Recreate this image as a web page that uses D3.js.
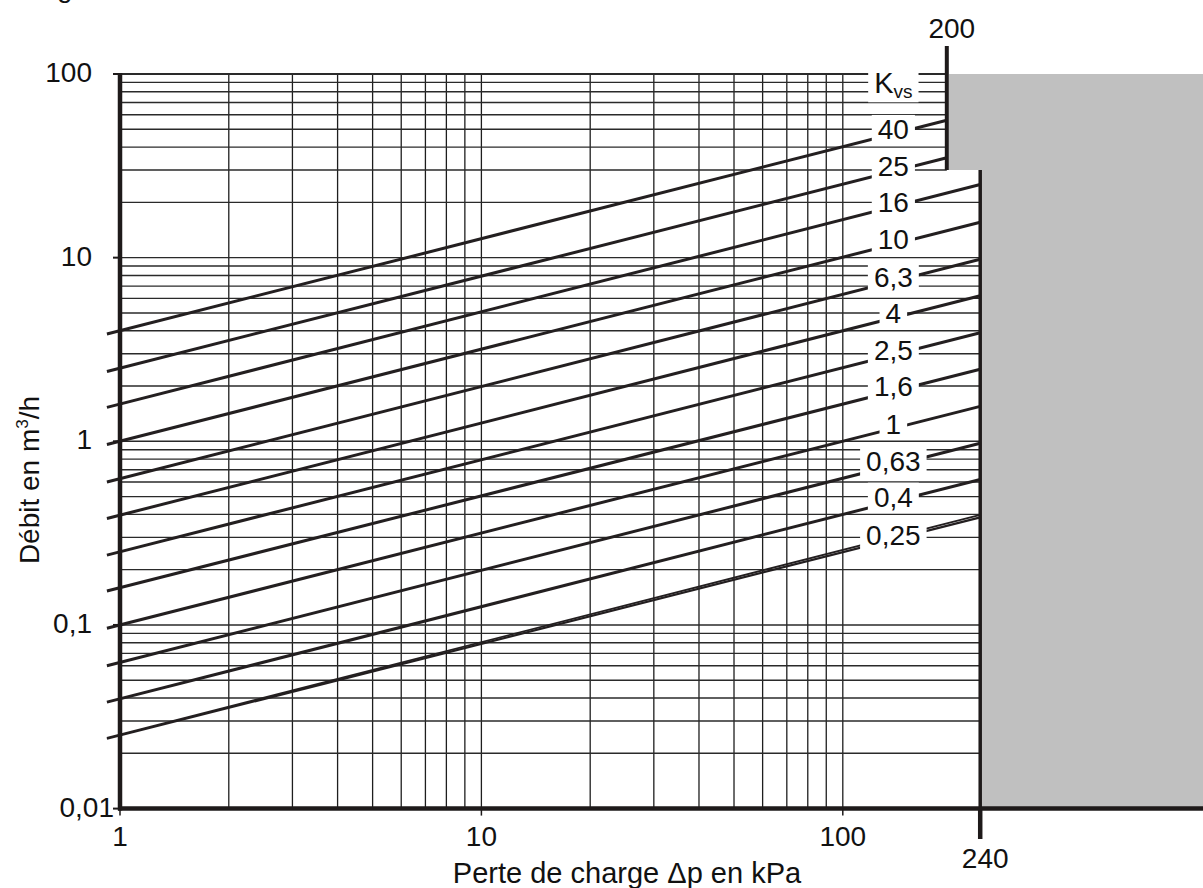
<!DOCTYPE html>
<html>
<head>
<meta charset="utf-8">
<script src="https://cdn.jsdelivr.net/npm/d3@7"></script>
<style>
  body { margin: 0; background: #fff; }
  text { font-family: "Liberation Sans", Arial, sans-serif; fill: #111; }
</style>
</head>
<body>
<div class="chart"></div>
<script>
// Kvs curves (start at dp ~0.92 kPa, end at the zone limit)
const kvsLabels = ["40", "25", "16", "10", "6,3", "4", "2,5", "1,6", "1", "0,63", "0,4", "0,25"];
const qStart = [3.84, 2.4, 1.53, 0.96, 0.6, 0.38, 0.24, 0.153, 0.096, 0.06, 0.038, 0.024];
const dpEnd = [194, 194, 240, 240, 240, 240, 240, 240, 240, 240, 240, 240];
const qEnd = [56, 35, 25, 15.6, 9.8, 6.2, 3.9, 2.47, 1.55, 0.975, 0.62, 0.385];
const dpStart = 0.92;
// the 0,25 curve is drawn twice in the original (slightly split at the end)
const ghostStart = 0.0243;
const ghostEnd = 0.398;

const yTickLabels = [[100, "100"], [10, "10"], [1, "1"], [0.1, "0,1"], [0.01, "0,01"]];
const xTickLabels = [[1, "1"], [10, "10"], [100, "100"]];
const zoneLimits = [[194, "200"], [240, "240"]];
const zoneStepQ = 30;
const labelDp = 138;

const W = 1203, H = 888;

const svg = d3.select(".chart")
    .append("svg")
    .attr("width", W)
    .attr("height", H);

const x = d3.scaleLog().domain([1, 100]).range([120, 842.8]);
const y = d3.scaleLog().domain([0.01, 100]).range([808.6, 74]);

const xA = x(zoneLimits[0][0]), xB = x(zoneLimits[1][0]);

/* cropped heading at the very top */
svg.append("text").attr("x", 57).attr("y", -3).attr("font-size", "28px").text("g");

/* grid */
svg.selectAll(".vgrid")
    .data(x.ticks())
    .enter()
    .append("line")
    .attr("x1", d => x(d)).attr("x2", d => x(d))
    .attr("y1", y(100)).attr("y2", y(0.01))
    .attr("stroke", "#1e1e1e")
    .attr("stroke-width", 1.3);

svg.selectAll(".hgrid")
    .data(y.ticks())
    .enter()
    .append("line")
    .attr("x1", x(1))
    .attr("x2", d => d >= zoneStepQ - 0.1 ? xA : xB)
    .attr("y1", d => y(d)).attr("y2", d => y(d))
    .attr("stroke", "#2a2a2a")
    .attr("stroke-width", d => d == 100 ? 2 : 1.4);

/* grey zone */
svg.append("path")
    .attr("d", `M${xA + 2},${y(100)} H${W} V${y(0.01)} H${xB} V${y(zoneStepQ)} H${xA + 2} Z`)
    .attr("fill", "#c0c0c0");

/* curves */
const line = d3.line().x(d => x(d[0])).y(d => y(d[1]));

const curves = kvsLabels.map((k, i) => [[dpStart, qStart[i]], [dpEnd[i], qEnd[i]]]);

svg.selectAll(".curve")
    .data(curves)
    .enter()
    .append("path")
    .attr("d", line)
    .attr("fill", "none")
    .attr("stroke", "#231f20")
    .attr("stroke-width", (d, i) => i == curves.length - 1 ? 2.2 : 3);

svg.append("path")
    .attr("d", line([[dpStart, ghostStart], [240, ghostEnd]]))
    .attr("fill", "none")
    .attr("stroke", "#231f20")
    .attr("stroke-width", 1.8);

/* curve labels with white boxes */
function curveY(c) {
    const t = (Math.log(labelDp) - Math.log(c[0][0])) / (Math.log(c[1][0]) - Math.log(c[0][0]));
    return y(Math.exp(Math.log(c[0][1]) + t * (Math.log(c[1][1]) - Math.log(c[0][1]))));
}

const lab = svg.selectAll(".lab")
    .data(curves)
    .enter()
    .append("g")
    .attr("transform", (d, i) => `translate(${x(labelDp)},${curveY(d) - 5})`);

lab.append("rect").attr("fill", "#fff");
lab.append("text")
    .attr("text-anchor", "middle")
    .attr("dy", "0.36em")
    .attr("font-size", "28px")
    .text((d, i) => kvsLabels[i]);

// Kvs header
const head = svg.append("g").attr("transform", `translate(${x(labelDp)},${curveY(curves[0]) - 51})`);
head.append("rect").attr("fill", "#fff");
const ht = head.append("text").attr("text-anchor", "middle").attr("dy", "0.36em").attr("font-size", "29px");
ht.append("tspan").text("K");
ht.append("tspan").attr("font-size", "19px").attr("dy", "5").text("vs");

svg.selectAll("g").each(function() {
    const t = d3.select(this).select("text").node();
    if (!t) return;
    const b = t.getBBox();
    d3.select(this).select("rect")
        .attr("x", b.x - 6).attr("y", b.y + 1)
        .attr("width", b.width + 12).attr("height", b.height - 1);
});

/* zone limit lines */
svg.append("line")
    .attr("x1", xA).attr("x2", xA)
    .attr("y1", 46).attr("y2", y(zoneStepQ))
    .attr("stroke", "#1e1a1a").attr("stroke-width", 4);

svg.append("line")
    .attr("x1", xB).attr("x2", xB)
    .attr("y1", y(zoneStepQ)).attr("y2", y(0.01))
    .attr("stroke", "#1e1a1a").attr("stroke-width", 3.5);

svg.append("line")
    .attr("x1", xB).attr("x2", xB)
    .attr("y1", y(0.01)).attr("y2", 839)
    .attr("stroke", "#1e1a1a").attr("stroke-width", 4.5);

svg.selectAll(".zlab")
    .data(zoneLimits)
    .enter()
    .append("text")
    .attr("x", d => x(d[0]) + 5)
    .attr("y", (d, i) => i == 0 ? 38 : 868)
    .attr("text-anchor", "middle")
    .attr("font-size", "28px")
    .text(d => d[1]);

/* axes */
svg.append("line")
    .attr("x1", x(1)).attr("x2", x(1))
    .attr("y1", y(100) - 1).attr("y2", y(0.01) + 2)
    .attr("stroke", "#1e1a1a").attr("stroke-width", 4.5);

svg.append("line")
    .attr("x1", x(1) - 2).attr("x2", W)
    .attr("y1", y(0.01)).attr("y2", y(0.01))
    .attr("stroke", "#1e1a1a").attr("stroke-width", 4.5);

svg.selectAll(".ytick")
    .data(yTickLabels)
    .enter()
    .append("line")
    .attr("x1", x(1) - 7).attr("x2", x(1))
    .attr("y1", d => y(d[0])).attr("y2", d => y(d[0]))
    .attr("stroke", "#1e1a1a").attr("stroke-width", 2);

svg.selectAll(".xtick")
    .data(xTickLabels)
    .enter()
    .append("line")
    .attr("x1", d => x(d[0])).attr("x2", d => x(d[0]))
    .attr("y1", y(0.01)).attr("y2", y(0.01) + 7)
    .attr("stroke", "#1e1a1a").attr("stroke-width", 1.5);

svg.selectAll(".ylab")
    .data(yTickLabels)
    .enter()
    .append("text")
    .attr("x", d => d[0] == 0.01 ? 114 : 92)
    .attr("y", d => y(d[0]) + 8)
    .attr("text-anchor", "end")
    .attr("font-size", "28px")
    .text(d => d[1]);

svg.selectAll(".xlab")
    .data(xTickLabels)
    .enter()
    .append("text")
    .attr("x", d => x(d[0]))
    .attr("y", 846)
    .attr("text-anchor", "middle")
    .attr("font-size", "28px")
    .text(d => d[1]);

/* axis titles */
svg.append("text")
    .attr("x", 627).attr("y", 883)
    .attr("text-anchor", "middle")
    .attr("font-size", "29px")
    .text("Perte de charge \u0394p en kPa");

const yt = svg.append("text")
    .attr("transform", "translate(39,480) rotate(-90)")
    .attr("text-anchor", "middle")
    .attr("font-size", "28px");
yt.append("tspan").text("Débit en m");
yt.append("tspan").attr("font-size", "17px").attr("dy", "-11").text("3");
yt.append("tspan").attr("dy", "11").text("/h");
</script>
</body>
</html>
